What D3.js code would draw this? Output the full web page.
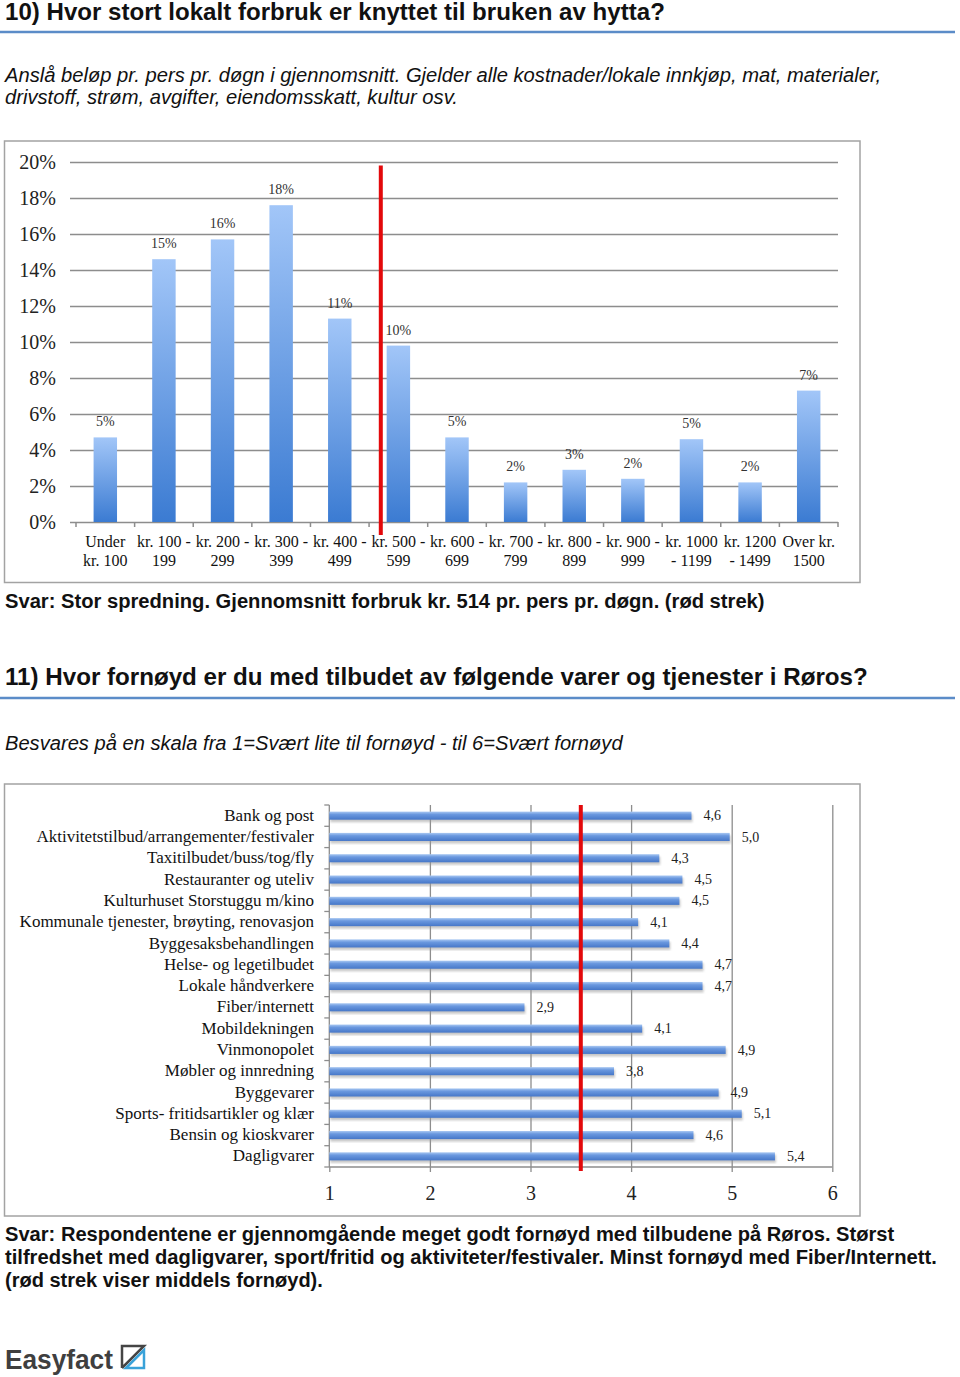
<!DOCTYPE html>
<html>
<head>
<meta charset="utf-8">
<script src="https://cdn.jsdelivr.net/npm/d3@7"></script>
<style>
  body { margin: 0; background: #fff; }
  svg { display: block; }
  .serif { font-family: "Liberation Serif", "Times New Roman", serif; }
  .sans { font-family: "Liberation Sans", Arial, sans-serif; }
</style>
</head>
<body>
<div id="page"></div>
<script>
// --- chart 10: spend per person per day ---
const spendLines = [
  ["Under", "kr. 100"], ["kr. 100 -", "199"], ["kr. 200 -", "299"], ["kr. 300 -", "399"],
  ["kr. 400 -", "499"], ["kr. 500 -", "599"], ["kr. 600 -", "699"], ["kr. 700 -", "799"],
  ["kr. 800 -", "899"], ["kr. 900 -", "999"], ["kr. 1000", "- 1199"], ["kr. 1200", "- 1499"],
  ["Over kr.", "1500"]
];
const spendCats = spendLines.map(d => d.join(" "));
const spendShare = [0.047, 0.146, 0.157, 0.176, 0.113, 0.098, 0.047, 0.022, 0.029, 0.024, 0.046, 0.022, 0.073];
const spendTicks = [0, 0.02, 0.04, 0.06, 0.08, 0.10, 0.12, 0.14, 0.16, 0.18, 0.20];
const spendMeanBand = 5.2; // kr. 514 sits just inside the 500-599 band

// --- chart 11: satisfaction 1-6 ---
const services = [
  "Bank og post", "Aktivitetstilbud/arrangementer/festivaler", "Taxitilbudet/buss/tog/fly",
  "Restauranter og uteliv", "Kulturhuset Storstuggu m/kino", "Kommunale tjenester, brøyting, renovasjon",
  "Byggesaksbehandlingen", "Helse- og legetilbudet", "Lokale håndverkere", "Fiber/internett",
  "Mobildekningen", "Vinmonopolet", "Møbler og innredning", "Byggevarer",
  "Sports- fritidsartikler og klær", "Bensin og kioskvarer", "Dagligvarer"
];
const scores = [4.60, 4.98, 4.28, 4.51, 4.48, 4.07, 4.38, 4.71, 4.71, 2.94, 4.11, 4.94, 3.83, 4.87, 5.10, 4.62, 5.43];
const scoreTicks = [1, 2, 3, 4, 5, 6];
const scoreMean = 3.5;

const W = 960, H = 1377;
const svg = d3.select("#page").append("svg").attr("width", W).attr("height", H);

const defs = svg.append("defs");
const g1 = defs.append("linearGradient").attr("id", "colGrad").attr("x1", 0).attr("y1", 0).attr("x2", 0).attr("y2", 1);
g1.append("stop").attr("offset", "0%").attr("stop-color", "#a2c6f8");
g1.append("stop").attr("offset", "100%").attr("stop-color", "#3b7bd2");
const g2 = defs.append("linearGradient").attr("id", "barGrad").attr("x1", 0).attr("y1", 0).attr("x2", 0).attr("y2", 1);
g2.append("stop").attr("offset", "0%").attr("stop-color", "#a9c8f2");
g2.append("stop").attr("offset", "35%").attr("stop-color", "#6a98df");
g2.append("stop").attr("offset", "100%").attr("stop-color", "#4677c8");
defs.append("filter").attr("id", "blur").append("feGaussianBlur").attr("stdDeviation", 1.3);

// plain text line, squeezed sideways to the width it has in the report
function textLine(x, y, str, size, opts) {
  const t = svg.append("text").attr("class", "sans")
    .style("font-size", size + "px").style("fill", opts.color || "#111")
    .style("font-weight", opts.bold ? "bold" : "normal")
    .style("font-style", opts.italic ? "italic" : "normal")
    .text(str);
  const k = opts.width ? opts.width / t.node().getComputedTextLength() : 1;
  t.attr("transform", `translate(${x},${y}) scale(${k},1)`);
  return t;
}

function rule(y) {
  svg.append("line").attr("x1", 0).attr("x2", 955).attr("y1", y).attr("y2", y)
    .attr("stroke", "#5b8cc8").attr("stroke-width", 2.5);
}

// header block 10
textLine(5, 20, "10) Hvor stort lokalt forbruk er knyttet til bruken av hytta?", 23, {bold: true, width: 660});
rule(32);
textLine(5, 82, "Anslå beløp pr. pers pr. døgn i gjennomsnitt. Gjelder alle kostnader/lokale innkjøp, mat, materialer,", 21, {italic: true, width: 877});
textLine(5, 104, "drivstoff, strøm, avgifter, eiendomsskatt, kultur osv.", 21, {italic: true, width: 453});

// chart 10 frame
svg.append("rect").attr("x", 4.5).attr("y", 141).attr("width", 855.5).attr("height", 441.5)
  .attr("fill", "none").attr("stroke", "#a3a3a3").attr("stroke-width", 1.5);

const x1 = d3.scaleBand().domain(spendCats).range([76, 838]).paddingInner(0.6).paddingOuter(0.3);
const x1edge = d3.scaleBand().domain(spendCats).range([76, 838]);
const y1 = d3.scaleLinear().domain([0, 0.2]).range([522, 162]);

const yAxis1 = svg.append("g").attr("transform", "translate(838,0)")
  .call(d3.axisLeft(y1).tickValues(spendTicks).tickSize(768).tickPadding(14).tickFormat(d3.format(".0%")));
yAxis1.select(".domain").remove();
yAxis1.selectAll("line").attr("stroke", "#8d8d8d").attr("stroke-width", 1.5);
yAxis1.selectAll("text").attr("class", "serif").style("font-size", "20px").style("fill", "#222");

// category ticks under the baseline
svg.append("g").selectAll("line")
  .data(spendCats.map(c => x1edge(c)).concat([838]))
  .join("line")
  .attr("x1", d => d).attr("x2", d => d).attr("y1", y1(0)).attr("y2", y1(0) + 5)
  .attr("stroke", "#8d8d8d").attr("stroke-width", 1.5);

svg.append("g").selectAll("rect")
  .data(spendCats)
  .join("rect")
  .attr("x", d => x1(d)).attr("width", x1.bandwidth())
  .attr("y", (d, i) => y1(spendShare[i]))
  .attr("height", (d, i) => y1(0) - y1(spendShare[i]))
  .attr("fill", "url(#colGrad)");

svg.append("g").selectAll("text")
  .data(spendCats)
  .join("text")
  .attr("class", "serif")
  .attr("x", d => x1(d) + x1.bandwidth() / 2)
  .attr("y", (d, i) => y1(spendShare[i]) - 11)
  .attr("text-anchor", "middle")
  .style("font-size", "14px").style("fill", "#333")
  .text((d, i) => d3.format(".0%")(spendShare[i]));

const catLabels = svg.append("g").selectAll("text")
  .data(spendCats)
  .join("text")
  .attr("class", "serif")
  .attr("text-anchor", "middle")
  .style("font-size", "16px").style("fill", "#111");
catLabels.each(function(d, i) {
  const cx = x1(d) + x1.bandwidth() / 2;
  spendLines[i].forEach((line, j) => {
    d3.select(this).append("tspan").attr("x", cx).attr("y", 547 + j * 19).text(line);
  });
});

// mean marker
const meanX = 76 + spendMeanBand * x1edge.step();
svg.append("line").attr("x1", meanX).attr("x2", meanX)
  .attr("y1", y1(0.198)).attr("y2", y1(0) + 13)
  .attr("stroke", "#e3090b").attr("stroke-width", 4);

textLine(5, 608, "Svar: Stor spredning. Gjennomsnitt forbruk kr. 514 pr. pers pr. døgn. (rød strek)", 21, {bold: true, width: 760});

// header block 11
textLine(5, 685, "11) Hvor fornøyd er du med tilbudet av følgende varer og tjenester i Røros?", 23, {bold: true, width: 863});
rule(698);
textLine(5, 750, "Besvares på en skala fra 1=Svært lite til fornøyd - til 6=Svært fornøyd", 21, {italic: true, width: 618});

// chart 11 frame
svg.append("rect").attr("x", 4.5).attr("y", 784).attr("width", 855.5).attr("height", 432)
  .attr("fill", "none").attr("stroke", "#a3a3a3").attr("stroke-width", 1.5);

const x2 = d3.scaleLinear().domain([1, 6]).range([329.3, 832.3]);
const y2 = d3.scaleBand().domain(services).range([805, 1167]).paddingInner(0.62).paddingOuter(0.31);
const y2edge = d3.scaleBand().domain(services).range([805, 1167]);

const grid2 = svg.append("g").attr("transform", "translate(0,1167)")
  .call(d3.axisBottom(x2).tickValues(scoreTicks.slice(1)).tickSize(-(1167 - 805)).tickFormat(""));
grid2.select(".domain").remove();
grid2.selectAll("line").attr("stroke", "#8d8d8d").attr("stroke-width", 1.3);

const xAxis2 = svg.append("g").attr("transform", "translate(0,1167)")
  .call(d3.axisBottom(x2).tickValues(scoreTicks).tickSize(5).tickPadding(14).tickFormat(d3.format("d")));
xAxis2.select(".domain").attr("stroke", "#8d8d8d").attr("stroke-width", 1.3).attr("d", `M${x2(1)},0H${x2(6)}`);
xAxis2.selectAll("line").attr("stroke", "#8d8d8d").attr("stroke-width", 1.3);
xAxis2.selectAll("text").attr("class", "serif").style("font-size", "20px").style("fill", "#222");

// left axis with ticks between categories
svg.append("line").attr("x1", x2(1)).attr("x2", x2(1)).attr("y1", 805).attr("y2", 1167)
  .attr("stroke", "#8d8d8d").attr("stroke-width", 1.3);
svg.append("g").selectAll("line")
  .data(services.map(s => y2edge(s)).concat([1167]))
  .join("line")
  .attr("x1", x2(1) - 5).attr("x2", x2(1)).attr("y1", d => d).attr("y2", d => d)
  .attr("stroke", "#8d8d8d").attr("stroke-width", 1.3);

// bar shadows then bars
svg.append("g").selectAll("rect")
  .data(services)
  .join("rect")
  .attr("x", x2(1) + 1).attr("y", d => y2(d) + 2.5)
  .attr("width", (d, i) => x2(scores[i]) - x2(1)).attr("height", y2.bandwidth())
  .attr("fill", "#9a9a9a").attr("opacity", 0.55).attr("filter", "url(#blur)");

svg.append("g").selectAll("rect")
  .data(services)
  .join("rect")
  .attr("x", x2(1)).attr("y", d => y2(d))
  .attr("width", (d, i) => x2(scores[i]) - x2(1)).attr("height", y2.bandwidth())
  .attr("fill", "url(#barGrad)");

const fmtComma = v => d3.format(".1f")(v).replace(".", ",");
svg.append("g").selectAll("text")
  .data(services)
  .join("text")
  .attr("class", "serif")
  .attr("x", (d, i) => x2(scores[i]) + 12)
  .attr("y", d => y2(d) + y2.bandwidth() / 2)
  .attr("dy", "0.33em")
  .style("font-size", "14px").style("fill", "#222")
  .text((d, i) => fmtComma(scores[i]));

svg.append("g").selectAll("text")
  .data(services)
  .join("text")
  .attr("class", "serif")
  .attr("x", 314)
  .attr("y", d => y2(d) + y2.bandwidth() / 2)
  .attr("dy", "0.3em")
  .attr("text-anchor", "end")
  .style("font-size", "17px").style("fill", "#111")
  .text(d => d);

svg.append("line").attr("x1", x2(scoreMean)).attr("x2", x2(scoreMean))
  .attr("y1", 805).attr("y2", 1171)
  .attr("stroke", "#e3090b").attr("stroke-width", 4);

textLine(5, 1241, "Svar: Respondentene er gjennomgående meget godt fornøyd med tilbudene på Røros. Størst", 21, {bold: true, width: 890});
textLine(5, 1264, "tilfredshet med dagligvarer, sport/fritid og aktiviteter/festivaler. Minst fornøyd med Fiber/Internett.", 21, {bold: true, width: 932});
textLine(5, 1287, "(rød strek viser middels fornøyd).", 21, {bold: true, width: 318});

// footer logo
textLine(5, 1369, "Easyfact", 27, {bold: true, color: "#3f3f3f", width: 108});
const logo = svg.append("g").attr("transform", "translate(122,1346)");
logo.append("path").attr("d", "M0,22V0H22L0,22").attr("fill", "none").attr("stroke", "#454545").attr("stroke-width", 2.5);
logo.append("path").attr("d", "M4,22H22V4Z").attr("fill", "none").attr("stroke", "#39a2d9").attr("stroke-width", 2.5);
</script>
</body>
</html>
